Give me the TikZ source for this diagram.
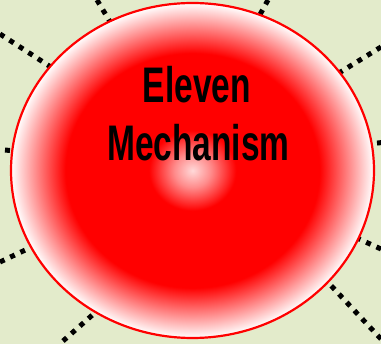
\documentclass[tikz,border=0pt]{standalone}
\usepackage{fontspec}
\newfontfamily\condfont[FakeStretch=0.67]{Liberation Sans}
\pgfdeclareradialshading{redball}{\pgfpoint{0bp}{0bp}}{%
  color(0bp)=(red!15!white);
  color(2.5bp)=(red!45!white);
  color(6bp)=(red);
  color(17.5bp)=(red);
  color(25bp)=(white);
  color(50bp)=(white)}
\definecolor{bgcol}{HTML}{E3EBCB}
\tikzset{
  dotline/.style={line width=5pt, dash pattern=on 5pt off 6.3pt, black},
  ball/.style={draw=red, line width=2.2pt, shading=redball},
  title/.style={font=\condfont\bfseries\fontsize{50}{58}\selectfont, anchor=base, inner sep=0pt}
}
\begin{document}
\begin{tikzpicture}[x=1pt,y=-1pt]
\fill[bgcol] (0,0) rectangle (381,344);
\useasboundingbox (0,0) rectangle (381,344);
% named anchors for the radiating dotted lines
\coordinate (c) at (192.5,170.5);
\coordinate (a1) at (0,34);    \coordinate (b1) at (150,131.5);
\coordinate (a2) at (97,0);    \coordinate (b2) at (140,72);
\coordinate (a3) at (268,0);   \coordinate (b3) at (240,51);
\coordinate (a4) at (381,47);  \coordinate (b4) at (250,128);
\coordinate (a5) at (382,142.5); \coordinate (b5) at (280,155);
\coordinate (a6) at (381,249); \coordinate (b6) at (280,203);
\coordinate (a7) at (381,339); \coordinate (b7) at (250,199);
\coordinate (a8) at (63,341);  \coordinate (b8) at (150,264);
\coordinate (a9) at (0,262);   \coordinate (b9) at (120,205);
\coordinate (a10) at (5,150);  \coordinate (b10) at (100,160);
\foreach \i in {1,...,10} \draw[dotline] (a\i) -- (b\i);
\path[ball] (c) ellipse [x radius=181.5, y radius=167.5];
\node[title] (t1) at (197,103) {Eleven};
\node[title] (t2) at (198.5,161) {Mechanism};
\end{tikzpicture}
\end{document}
